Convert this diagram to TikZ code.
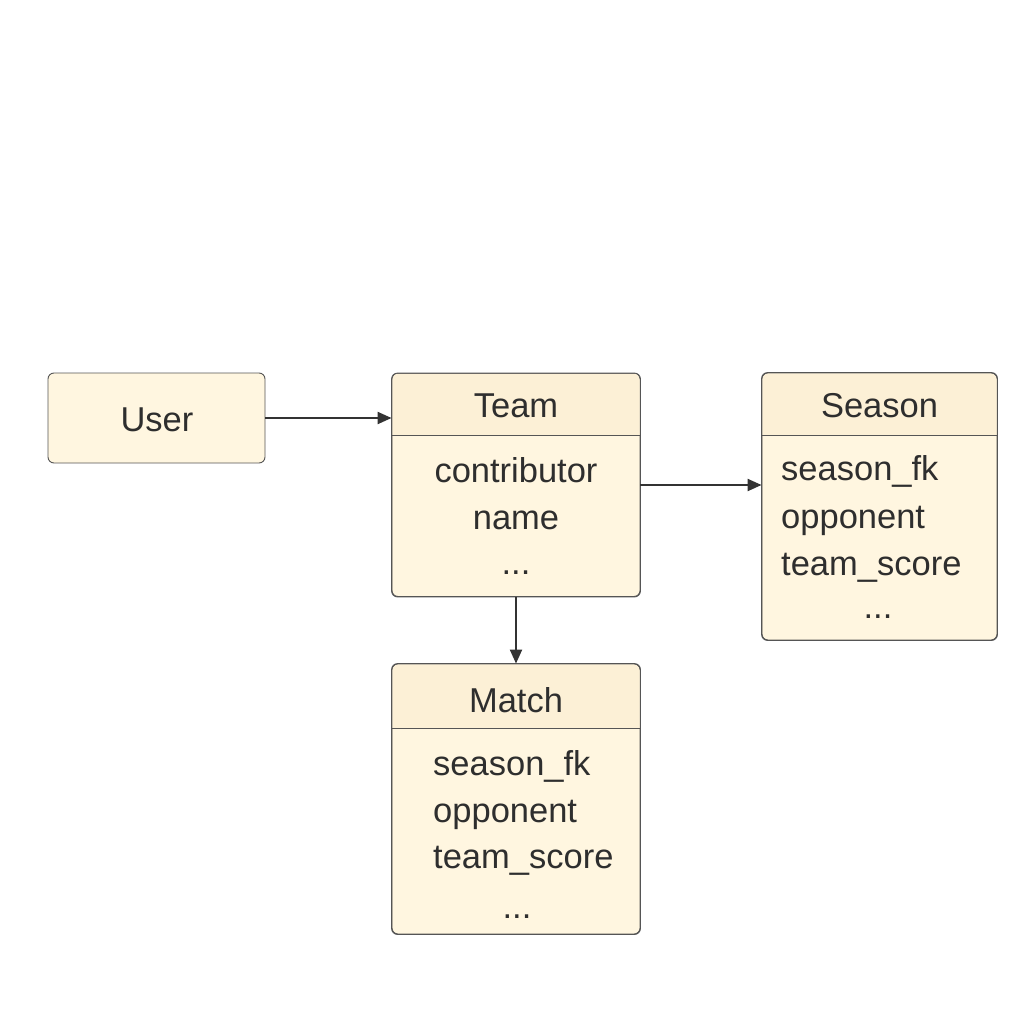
\documentclass[tikz,border=0pt]{standalone}
\usepackage{fontspec}
\setmainfont{Liberation Sans}
\usetikzlibrary{arrows.meta}
\definecolor{bodyc}{HTML}{FFF6E0}
\definecolor{hdrc}{HTML}{FCF0D6}
\definecolor{linec}{HTML}{555555}
\definecolor{txtc}{HTML}{2E2E2E}
\definecolor{arrc}{HTML}{333333}
\tikzset{
  ent/.style={draw=linec, line width=0.9pt, fill=bodyc, rounded corners=6pt, inner sep=0pt},
  lbl/.style={text=txtc, font=\fontsize{34.5}{34.5}\selectfont, inner sep=0pt, anchor=base},
  lbll/.style={lbl, anchor=base west},
  arr/.style={draw=arrc, line width=2.2pt, -{Triangle[length=14pt,width=12pt]}}
}
\begin{document}
\begin{tikzpicture}[x=1pt,y=-1pt]
\useasboundingbox (0,0) rectangle (1024,1024);
\fill[white] (0,0) rectangle (1024,1024);
% User
\node[ent, minimum width=217pt, minimum height=90pt] (user) at (156.5,418) {};
\node[lbl] (userT) at (157,431) {User};
% Team
\node[ent, minimum width=248pt, minimum height=223pt] (team) at (516,485) {};
\fill[hdrc] (392.5,435) [rounded corners=6pt] -- (392.5,373.5) -- (639.5,373.5) [sharp corners] -- (639.5,435) -- cycle;
\draw[linec, line width=0.9pt, rounded corners=6pt] (team.south west) rectangle (team.north east);
\draw[linec, line width=0.9pt] (team.west |- 0,435) -- (team.east |- 0,435);
\node[lbl] (teamT) at (516,417) {Team};
\node[lbl] (team1) at (516,482) {contributor};
\node[lbl] (team2) at (516,529) {name};
\node[lbl] (team3) at (516,574) {...};
% Season
\node[ent, minimum width=235pt, minimum height=267pt] (season) at (879.5,506.5) {};
\fill[hdrc] (762.5,435) [rounded corners=6pt] -- (762.5,373.5) -- (996.5,373.5) [sharp corners] -- (996.5,435) -- cycle;
\draw[linec, line width=0.9pt, rounded corners=6pt] (season.south west) rectangle (season.north east);
\draw[linec, line width=0.9pt] (season.west |- 0,435) -- (season.east |- 0,435);
\node[lbl] (seasonT) at (879.5,417) {Season};
\node[lbll] (season1) at (781,480) {season\_fk};
\node[lbll] (season2) at (781,528) {opponent};
\node[lbll] (season3) at (781,575) {team\_score};
\node[lbl] (season4) at (878,618) {...};
% Match
\node[ent, minimum width=248pt, minimum height=270pt] (match) at (516,799) {};
\fill[hdrc] (392.5,728) [rounded corners=6pt] -- (392.5,664.5) -- (639.5,664.5) [sharp corners] -- (639.5,728) -- cycle;
\draw[linec, line width=0.9pt, rounded corners=6pt] (match.south west) rectangle (match.north east);
\draw[linec, line width=0.9pt] (match.west |- 0,728) -- (match.east |- 0,728);
\node[lbl] (matchT) at (516,712) {Match};
\node[lbll] (match1) at (433,775) {season\_fk};
\node[lbll] (match2) at (433,822) {opponent};
\node[lbll] (match3) at (433,868) {team\_score};
\node[lbl] (match4) at (517,918) {...};
% connectors
\draw[arr] (user.east) -- (user.east -| team.west);
\draw[arr] (team.east) -- (team.east -| season.west);
\draw[arr] (team.south) -- (match.north);
\end{tikzpicture}
\end{document}
